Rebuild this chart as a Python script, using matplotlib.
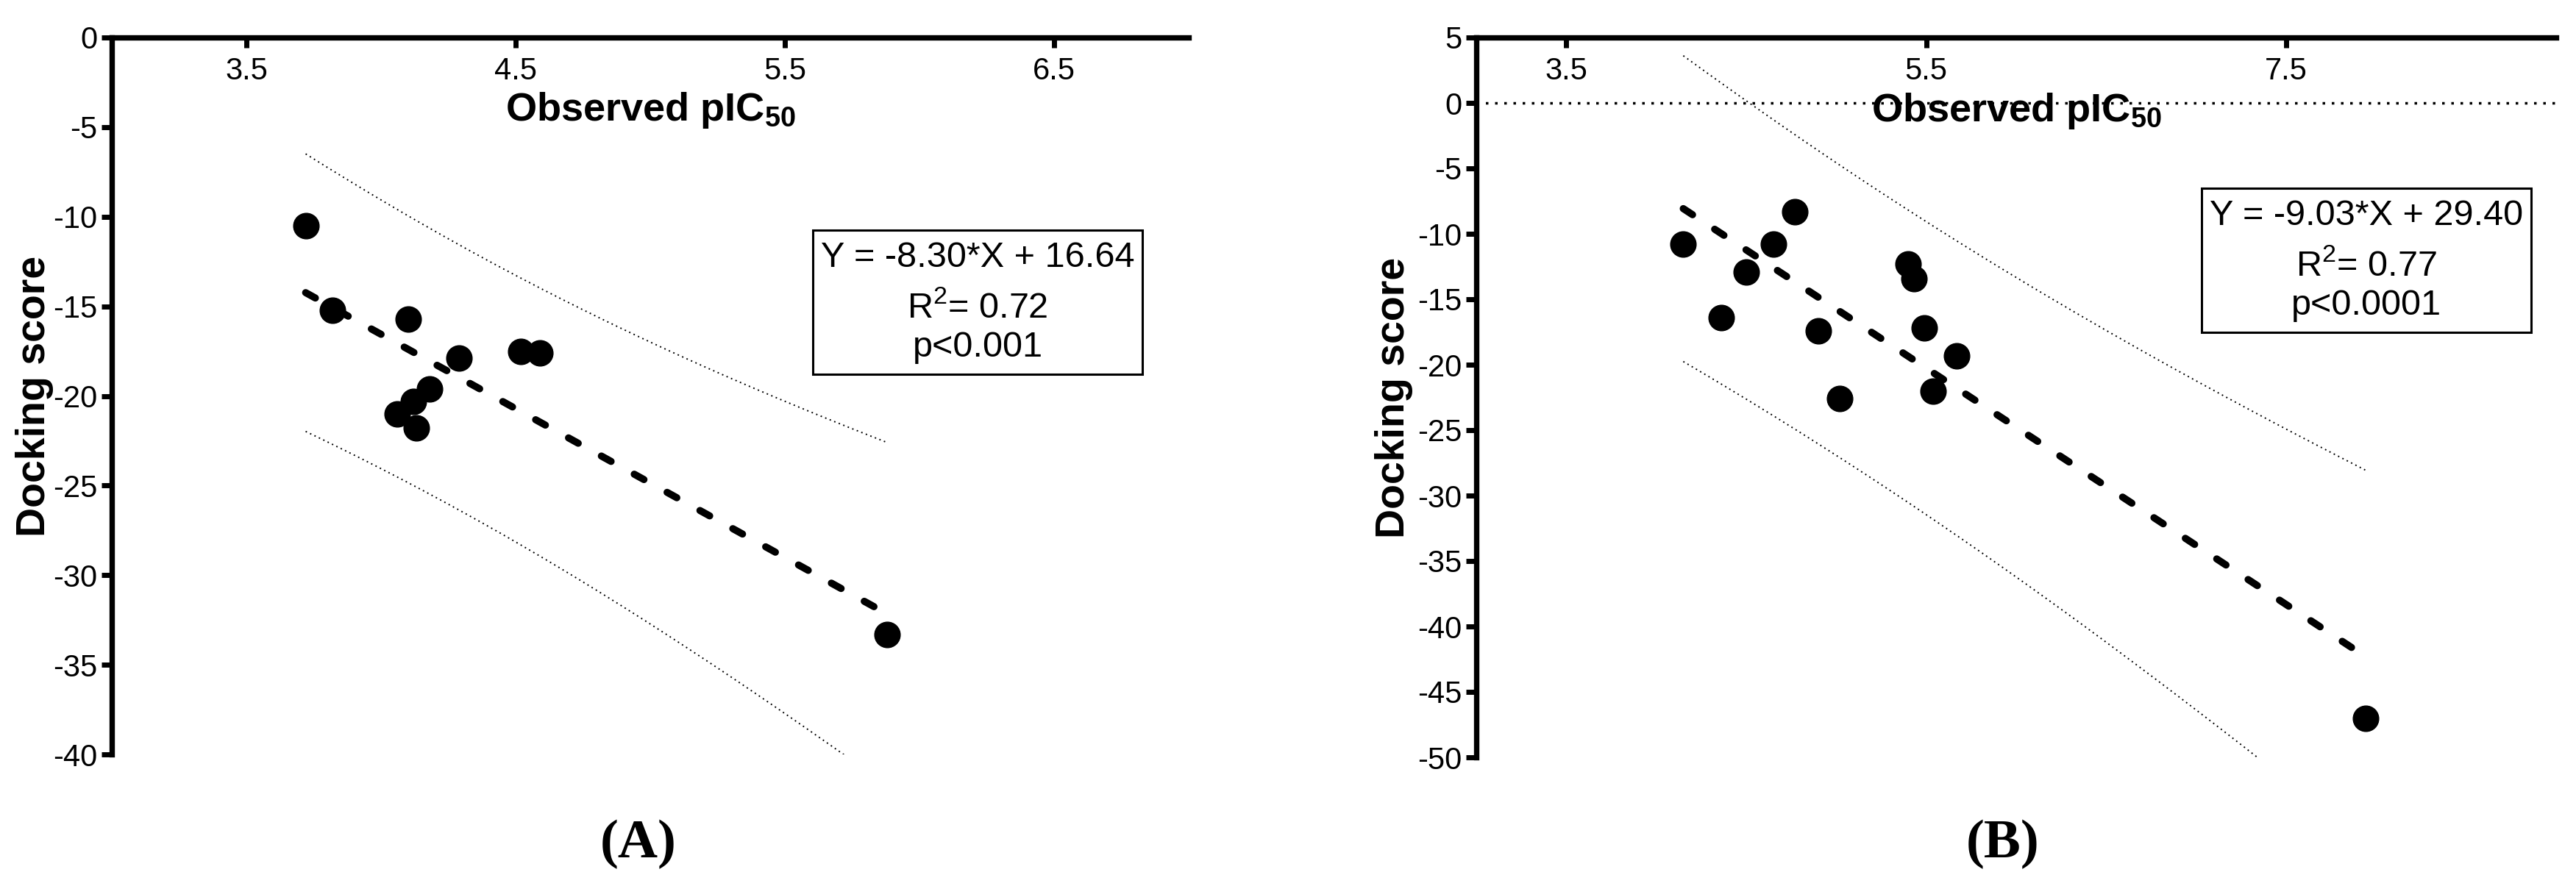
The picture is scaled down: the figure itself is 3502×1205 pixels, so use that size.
import numpy as np
import matplotlib
matplotlib.use("Agg")
import matplotlib.pyplot as plt
from matplotlib.patches import Rectangle

plt.rcParams['font.family'] = ['Liberation Sans', 'DejaVu Sans']
plt.rcParams['mathtext.default'] = 'regular'
plt.rcParams['axes.unicode_minus'] = False

# ---- panel A data
a_x = [3.72, 3.82, 4.10, 4.29, 4.52, 4.59, 4.18, 4.12, 4.06, 4.13, 5.88]
a_y = [-10.5, -15.2, -15.7, -17.9, -17.5, -17.6, -19.6, -20.3, -21.0, -21.8, -33.3]
a_slope, a_icpt = -8.30, 16.64
a_r2 = "0.72"
a_p = "p<0.001"
a_xticks = [3.5, 4.5, 5.5, 6.5]
a_yticks = [0, -5, -10, -15, -20, -25, -30, -35, -40]

# ---- panel B data
b_x = [4.15, 4.36, 4.50, 4.65, 4.77, 4.90, 5.02, 5.40, 5.43, 5.49, 5.54, 5.67, 7.94]
b_y = [-10.8, -16.4, -12.9, -10.8, -8.3, -17.4, -22.6, -12.3, -13.4, -17.2, -22.0, -19.3, -47.0]
b_slope, b_icpt = -9.03, 29.40
b_r2 = "0.77"
b_p = "p<0.0001"
b_xticks = [3.5, 5.5, 7.5]
b_yticks = [5, 0, -5, -10, -15, -20, -25, -30, -35, -40, -45, -50]

# two-sided 95% t values for n-2 degrees of freedom
t_a = 2.262   # df = 9
t_b = 2.201   # df = 11

W, H = 3502, 1205


def pred_band(x, y, slope, icpt, t):
    # 95% prediction band around the fitted line
    x = np.asarray(x)
    y = np.asarray(y)
    n = len(x)
    res = y - (slope * x + icpt)
    s = np.sqrt(np.sum(res ** 2) / (n - 2))
    sxx = np.sum((x - x.mean()) ** 2)
    xs = np.linspace(x.min(), x.max(), 300)
    fit = slope * xs + icpt
    hw = t * s * np.sqrt(1 + 1 / n + (xs - x.mean()) ** 2 / sxx)
    return xs, fit, fit - hw, fit + hw


def draw_panel(ax, x, y, slope, icpt, t, xlim, ylim, xticks, yticks, ylab_x):
    xs, fit, lo, hi = pred_band(x, y, slope, icpt, t)
    ax.plot(xs, hi, color='black', lw=1.4, ls=(0, (1, 2.4)))
    ax.plot(xs, lo, color='black', lw=1.4, ls=(0, (1, 2.4)))
    ax.plot(xs, fit, color='black', lw=7, ls=(0, (1.55, 3.7)),
            dash_capstyle='round', zorder=3)
    ax.plot(x, y, 'o', color='black', ms=25, zorder=4, clip_on=False)

    ax.set_xlim(xlim)
    ax.set_ylim(ylim)
    ax.spines['top'].set_visible(False)
    ax.spines['right'].set_visible(False)
    ax.spines['bottom'].set_position(('axes', 1.0))
    ax.spines['bottom'].set_linewidth(5.3)
    ax.spines['left'].set_linewidth(5.3)
    ax.set_xticks(xticks)
    ax.set_xticklabels([f"{v:.1f}" for v in xticks])
    ax.set_yticks(yticks)
    ax.set_yticklabels([str(v) for v in yticks])
    ax.tick_params(direction='out', length=10, width=5, labelsize=30)
    ax.tick_params(axis='x', pad=9)
    ax.tick_params(axis='y', pad=4)

    ax.set_xlabel(r'Observed pIC$_{50}$', fontsize=39, fontweight='bold')
    ax.xaxis.set_label_coords(0.5, 0.884)
    ax.xaxis.label.set_va('baseline')
    ax.set_ylabel('Docking score', fontsize=40, fontweight='bold')
    ax.yaxis.set_label_coords(ylab_x, 0.5)
    ax.yaxis.label.set_va('center')


fig = plt.figure(figsize=(W / 100, H / 100), dpi=100)

axA = fig.add_axes([152 / W, 1 - 1026 / H, 1464 / W, 975 / H])
draw_panel(axA, a_x, a_y, a_slope, a_icpt, t_a, (3, 7), (-40, 0),
           a_xticks, a_yticks, -0.072)

axB = fig.add_axes([2007 / W, 1 - 1030 / H, 1468 / W, 979 / H])
axB.axhline(0, color='black', lw=2.5, ls=(0, (1, 2.6)), zorder=1)
draw_panel(axB, b_x, b_y, b_slope, b_icpt, t_b, (3, 9), (-50, 5),
           b_xticks, b_yticks, -0.076)


def stat_box(x0, y0, slope, icpt, r2, p):
    # box with the regression equation, in figure pixels
    bw, bh = 448, 196
    fig.add_artist(Rectangle((x0 / W, 1 - (y0 + bh) / H), bw / W, bh / H,
                             transform=fig.transFigure, fill=False,
                             ec='black', lw=2.2))
    cx = (x0 + bw / 2) / W
    sign = '+' if icpt >= 0 else '-'
    eq = f"Y = {slope:.2f}*X {sign} {abs(icpt):.2f}"
    fig.text(cx, 1 - (y0 + 50) / H, eq, fontsize=35, ha='center', va='baseline')
    fig.text(cx, 1 - (y0 + 119) / H, f"R$^2$= {r2}", fontsize=35,
             ha='center', va='baseline')
    fig.text(cx, 1 - (y0 + 172) / H, p, fontsize=35, ha='center', va='baseline')


stat_box(1105, 313, a_slope, a_icpt, a_r2, a_p)
stat_box(2993, 256, b_slope, b_icpt, b_r2, b_p)

serif = ['Liberation Serif', 'DejaVu Serif']
fig.text(868 / W, 1 - 1166 / H, '(A)', family=serif, fontweight='bold',
         fontsize=54, ha='center', va='baseline')
fig.text(2723 / W, 1 - 1166 / H, '(B)', family=serif, fontweight='bold',
         fontsize=54, ha='center', va='baseline')

fig.savefig('out.png', dpi=100)
